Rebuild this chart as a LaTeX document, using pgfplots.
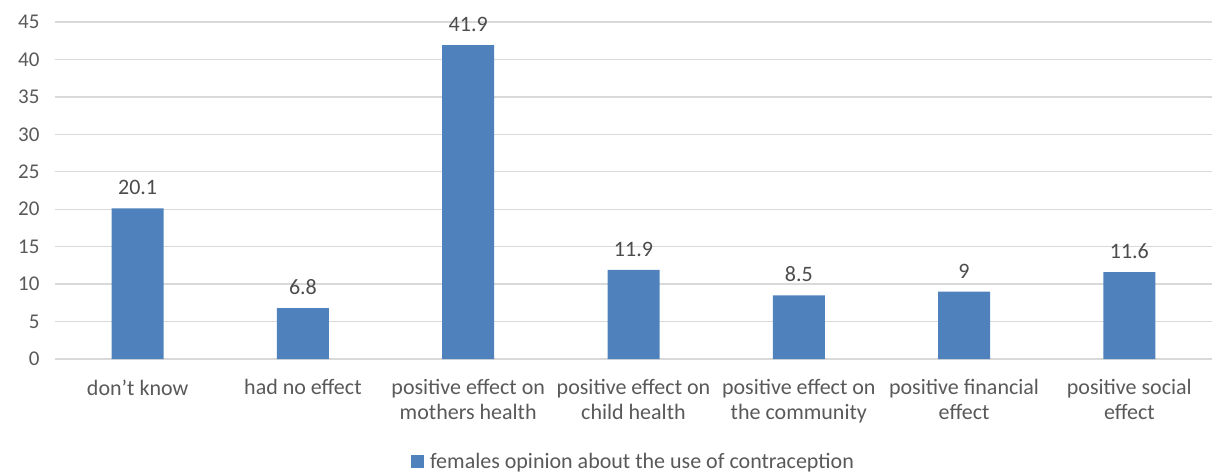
\documentclass[border=0pt]{standalone}
\usepackage{pgfplots}
\pgfplotsset{compat=1.18}
\usepackage{fontspec}
\setmainfont{Carlito}
\definecolor{barblue}{HTML}{4F81BD}
\definecolor{txtgray}{HTML}{595959}
\definecolor{gridgray}{HTML}{D9D9D9}
\begin{document}
\begin{tikzpicture}
\path[use as bounding box] (0,0) rectangle (1217pt,471pt);
\begin{axis}[
  at={(55pt,112pt)}, anchor=south west,
  scale only axis, width=1157pt, height=337pt,
  xmin=-0.5, xmax=6.5, ymin=0, ymax=45,
  ytick={0,5,...,45},
  xtick={0,1,2,3,4,5,6},
  xticklabels={{don’t know},{had no effect},{positive effect on\\mothers health},{positive effect on\\child health},{positive effect on\\the community},{positive financial\\effect},{positive social\\effect}},
  axis line style={draw=none},
  major tick length=0pt,
  ymajorgrids, grid style={gridgray, line width=1.3pt},
  /pgf/number format/assume math mode=true,
  tick label style={font=\fontsize{21}{25}\selectfont, text=txtgray},
  yticklabel style={xshift=-12pt},
  xticklabel style={align=center, yshift=-17pt, font=\fontsize{22}{25}\selectfont},
  nodes near coords,
  every node near coord/.append style={font=\fontsize{22}{24}\selectfont, text=txtgray!85!black, yshift=10pt},
  legend style={at={(0.5,-0.305)}, anchor=center, draw=none, font=\fontsize{22}{24}\selectfont, text=txtgray, inner sep=0pt},
  legend image code/.code={\fill[barblue] (0pt,-6.5pt) rectangle (13pt,6.5pt); \path (17pt,0pt);},
]
\addplot[ybar, bar width=52pt, fill=barblue, draw=none,
  point meta=explicit symbolic]
  coordinates {(0,20.1)[20.1] (1,6.8)[6.8] (2,41.9)[41.9] (3,11.9)[11.9] (4,8.5)[8.5] (5,9)[9] (6,11.6)[11.6]};
\addlegendentry{females opinion about the use of contraception}
\end{axis}
\end{tikzpicture}
\end{document}
